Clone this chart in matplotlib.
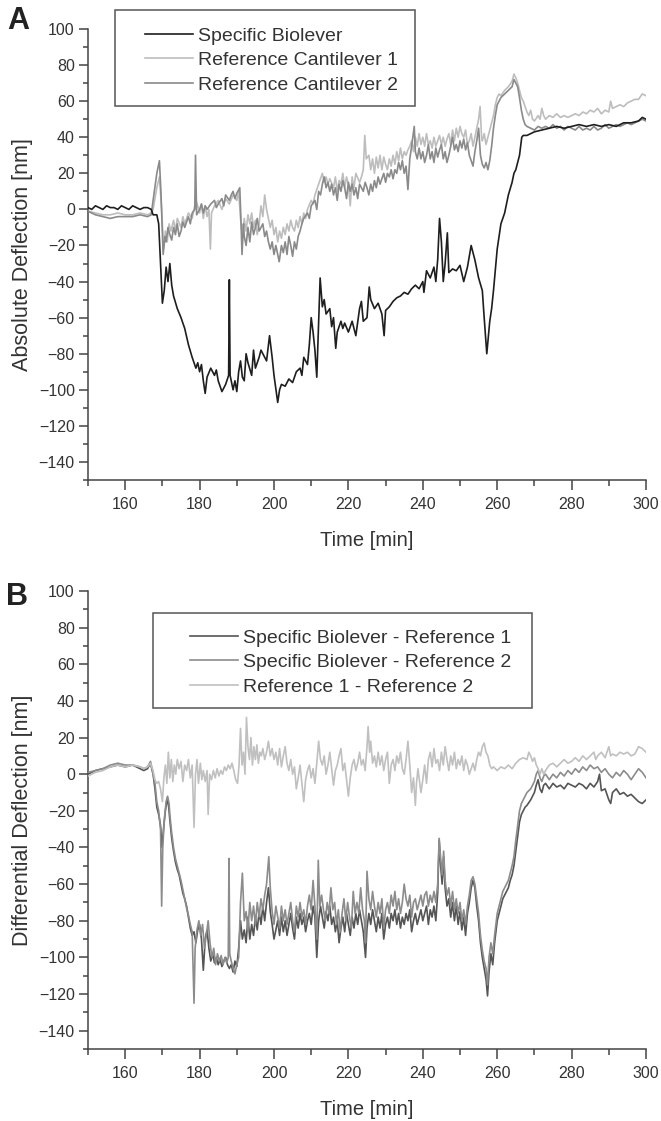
import numpy as np
import matplotlib
matplotlib.use('Agg')
import matplotlib.pyplot as plt
from matplotlib.ticker import MultipleLocator
from matplotlib.patches import Rectangle

plt.rcParams['font.family'] = ['Liberation Sans', 'DejaVu Sans']

# --- DATA (time [min], deflection [nm]) ---
# Panel A: absolute deflection
bio_abs = [
    (150, 1), (151, 0), (152, 2), (153, 1), (154, 0), (155, 2), (156, 1), (157, 1), (158, 0),
    (159, 2), (160, 1), (161, 0), (162, 2), (163, 1), (164, 0), (165, 1), (166, 1), (167, 0),
    (167.5, -3), (168.5, -3), (169, -8), (169.6, -35), (170, -52), (170.5, -45), (171, -32),
    (171.5, -40), (172, -30), (172.5, -42), (173, -48), (174, -55), (175, -60), (176, -66),
    (177, -75), (178, -82), (179, -88), (179.5, -85), (180, -90), (180.5, -86), (181, -95),
    (181.5, -102), (182, -93), (183, -88), (184, -92), (184.5, -89), (185, -95), (186, -101),
    (187, -97), (187.8, -92), (188, -39), (188.2, -92), (189, -100), (189.5, -95), (190, -101),
    (190.5, -90), (191, -84), (191.5, -93), (192, -95), (192.5, -80), (193, -85), (194, -92),
    (194.5, -78), (195, -88), (196, -82), (196.5, -78), (197, -80), (198, -84), (198.8, -70),
    (199.5, -82), (200, -92), (201, -107), (201.5, -100), (202, -97), (203, -98), (204, -94),
    (205, -96), (206, -90), (207, -88), (207.5, -92), (208, -82), (209, -86), (209.5, -75),
    (210, -60), (210.5, -68), (211, -78), (211.5, -93), (212, -62), (212.4, -38), (213, -54),
    (213.5, -50), (214, -58), (215, -55), (215.5, -65), (216, -60), (216.6, -77), (217, -68),
    (218, -62), (218.5, -66), (219, -63), (220, -68), (221, -62), (222, -70), (223, -55),
    (223.5, -51), (224, -62), (225, -60), (225.6, -43), (226, -50), (227, -55), (228, -52),
    (229, -58), (229.6, -70), (230, -56), (231, -54), (232, -51), (233, -49), (234, -48),
    (235, -46), (236, -47), (237, -44), (238, -42), (239, -44), (240, -40), (240.3, -46),
    (241, -34), (242, -38), (243, -32), (243.5, -40), (244, -28), (244.5, -5), (245, -18),
    (245.5, -40), (246, -30), (246.6, -13), (247, -35), (248, -33), (249, -34), (250, -31),
    (251, -40), (252, -32), (253, -20), (254, -28), (255, -38), (256, -45), (256.5, -60),
    (257.2, -80), (258, -62), (258.5, -55), (259, -45), (260, -22), (261, -8), (262, -2),
    (263, 8), (264, 15), (264.5, 20), (265, 22), (266, 30), (266.6, 40), (267, 41), (268, 41),
    (269, 42), (270, 43), (272, 44), (274, 45), (276, 46), (278, 45), (280, 46), (282, 47),
    (284, 46), (286, 47), (288, 46), (290, 47), (292, 46), (294, 48), (296, 48), (298, 49),
    (299, 51), (300, 50),
]

ref1_abs = [
    (150, -1), (152, -2), (154, -3), (156, -3), (158, -2), (160, -3), (162, -3), (164, -2),
    (166, -3), (167, -2), (167.5, 0), (168.5, 12), (169.2, 18), (169.8, 0), (170.3, -22),
    (170.8, -12), (171.3, -18), (171.8, -8), (172.3, -12), (173, -6), (173.5, -12), (174, -5),
    (175, -10), (175.5, -4), (176, -8), (177, -2), (178, -5), (178.5, 0), (179, 5), (179.5, 2),
    (180, -2), (180.5, 3), (181, -5), (181.5, 2), (182, -4), (182.5, 0), (182.9, -22),
    (183.2, -2), (184, 2), (185, 5), (186, 0), (187, 6), (188, 3), (189, 8), (190, 5),
    (190.5, 10), (191, -5), (191.5, -15), (192, -5), (192.5, -12), (193, -3), (193.5, -8),
    (194, -2), (194.5, -10), (195, -6), (195.5, -14), (196, -8), (196.5, 2), (197, -4),
    (197.5, 8), (198, 0), (198.5, -5), (199, -10), (199.5, -6), (200, -14), (200.5, -10),
    (201, -18), (201.5, -12), (202, -16), (202.5, -10), (203, -14), (203.5, -8), (204, -12),
    (204.5, -6), (205, -10), (205.5, -12), (206, -6), (206.5, -10), (207, -4), (207.5, -8),
    (208, -2), (208.5, -5), (209, 0), (210, 5), (210.5, 3), (211, 8), (212, 14), (213, 20),
    (213.5, 15), (214, 18), (214.5, 14), (215, 17), (216, 12), (216.5, 18), (217, 10),
    (217.5, 16), (218, 14), (218.5, 20), (219, 12), (219.5, 18), (220, 14), (220.5, 2),
    (221, 18), (221.5, 12), (222, 20), (223, 15), (223.5, 18), (224, 22), (224.4, 41),
    (224.8, 28), (225.5, 30), (226, 22), (226.5, 28), (227, 20), (227.5, 29), (228, 23),
    (228.5, 30), (229, 22), (229.5, 29), (230, 25), (230.5, 22), (231, 28), (231.5, 24),
    (232, 30), (232.5, 25), (233, 32), (233.5, 27), (234, 34), (234.5, 28), (235, 32),
    (235.5, 30), (236, 33), (236.5, 35), (237, 38), (237.5, 32), (238, 40), (238.5, 35),
    (239, 42), (239.5, 36), (240, 40), (240.5, 35), (241, 42), (241.5, 36), (242, 38),
    (242.5, 34), (243, 40), (243.5, 35), (244, 38), (244.5, 41), (245, 36), (245.5, 40),
    (246, 35), (246.5, 39), (247, 42), (247.5, 36), (248, 44), (248.5, 38), (249, 45),
    (249.5, 40), (250, 46), (250.5, 42), (251, 40), (251.5, 44), (252, 36), (252.5, 38),
    (253, 42), (253.5, 35), (254, 40), (254.5, 45), (255, 50), (255.4, 57), (255.8, 40),
    (256, 38), (256.5, 42), (257, 36), (257.5, 40), (258, 44), (258.5, 48), (259, 52),
    (259.5, 58), (260, 62), (260.5, 64), (261, 63), (262, 66), (263, 68), (264, 71),
    (264.5, 75), (265, 73), (265.5, 70), (266, 66), (266.5, 62), (267, 60), (267.5, 57),
    (268, 54), (268.5, 52), (269, 55), (269.5, 50), (270, 49), (271, 52), (271.5, 50),
    (272, 56), (272.5, 52), (273, 50), (274, 52), (275, 51), (276, 53), (277, 51), (278, 52),
    (279, 51), (280, 52), (281, 53), (282, 52), (283, 54), (284, 53), (285, 55), (286, 54),
    (287, 56), (288, 53), (289, 55), (290, 54), (290.5, 60), (291, 56), (292, 57), (293, 58),
    (294, 57), (295, 59), (296, 60), (297, 61), (298, 61), (299, 64), (300, 63),
]

ref2_abs = [
    (150, -1), (152, -3), (154, -4), (156, -5), (158, -4), (160, -4), (162, -4), (164, -3),
    (166, -4), (167, -3), (167.5, 5), (168.5, 20), (169.2, 27), (169.6, 10), (170.2, -25),
    (170.7, -15), (171, -18), (171.5, -10), (172, -14), (172.5, -17), (173, -10), (173.5, -14),
    (174, -8), (174.5, -15), (175, -12), (175.5, -7), (176, -10), (177, -4), (177.5, -8),
    (178, -2), (178.7, 0), (178.9, 30), (179.2, -3), (180, 0), (180.5, 3), (181, -2),
    (181.5, 2), (182, 0), (183, 3), (184, 5), (184.5, 1), (185, 3), (186, 6), (186.5, 2),
    (187, 8), (188, 5), (188.5, 8), (189, 10), (189.5, 6), (190, 9), (190.8, 12), (191.1, -5),
    (191.4, -25), (191.8, -8), (192, -15), (192.5, -20), (193, -10), (193.5, -18), (194, -7),
    (194.5, -14), (195, -10), (195.5, -5), (196, -12), (197, -8), (197.5, -15), (198, -12),
    (198.5, -18), (199, -22), (199.5, -18), (200, -25), (200.5, -20), (201.4, -29), (202, -20),
    (202.5, -24), (203, -18), (203.5, -25), (204, -15), (204.5, -20), (205, -26), (205.5, -18),
    (206, -22), (206.5, -15), (207, -12), (207.5, -8), (208, -5), (209, -2), (209.5, -5),
    (210, 2), (211, 5), (211.5, 0), (212, 10), (212.5, 8), (213, 14), (213.5, 18), (214, 12),
    (214.5, 15), (215, 10), (215.5, 14), (216, 8), (216.5, 12), (217, 5), (217.5, 14),
    (218, 10), (218.5, 16), (219, 12), (219.5, 6), (220, 15), (220.5, 10), (221, 14),
    (221.5, 8), (222, 12), (222.5, 6), (223, 14), (224, 10), (224.5, 15), (225, 12),
    (225.5, 8), (226, 14), (226.5, 10), (227, 16), (227.5, 12), (228, 18), (228.5, 14),
    (229, 17), (229.5, 20), (230, 15), (230.5, 20), (231, 18), (231.5, 22), (232, 17),
    (232.5, 22), (233, 20), (233.5, 26), (234, 22), (234.5, 27), (235, 20), (235.5, 24),
    (236, 11), (236.5, 28), (237, 35), (237.7, 46), (238, 32), (238.5, 28), (239, 34),
    (239.5, 28), (240, 32), (240.5, 26), (241, 30), (241.5, 36), (242, 28), (242.5, 32),
    (243, 26), (243.5, 34), (244, 29), (244.5, 33), (245, 36), (245.5, 28), (246, 32),
    (246.5, 26), (247, 30), (247.5, 35), (248, 40), (248.5, 33), (249, 36), (249.5, 32),
    (250, 38), (250.5, 34), (251, 39), (251.5, 33), (252, 37), (252.5, 30), (253, 27),
    (253.5, 24), (254, 32), (254.5, 38), (255, 45), (255.5, 30), (256, 25), (256.5, 23),
    (257, 26), (257.5, 22), (258, 27), (258.5, 35), (259, 45), (259.5, 52), (260, 58),
    (260.5, 60), (261, 62), (262, 64), (263, 66), (264, 68), (264.5, 72), (265, 70),
    (265.5, 68), (266, 62), (266.5, 55), (267, 50), (267.5, 47), (268, 46), (269, 45),
    (270, 44), (271, 46), (272, 45), (273, 46), (274, 45), (275, 47), (276, 45), (277, 46),
    (278, 44), (279, 46), (280, 45), (281, 44), (282, 46), (283, 44), (284, 45), (285, 44),
    (286, 46), (287, 44), (288, 45), (289, 47), (290, 45), (291, 46), (292, 47), (293, 46),
    (294, 47), (295, 48), (296, 47), (297, 48), (298, 49), (299, 50), (300, 49),
]

# Panel B: differential deflection
bio_minus_ref1 = [
    (150, 0), (152, 2), (154, 3), (156, 4), (158, 5), (160, 4), (162, 5), (164, 3), (165, 2),
    (166, 3), (166.8, 6), (167.5, 0), (168, -8), (168.5, -18), (169, -22), (169.5, -28),
    (169.9, -40), (170.3, -30), (170.8, -20), (171.3, -13), (171.7, -18), (172, -25),
    (172.5, -35), (173, -42), (173.5, -48), (174, -52), (174.5, -55), (175, -60), (175.5, -65),
    (176, -68), (176.5, -72), (177, -78), (177.5, -84), (178, -88), (178.5, -86), (179, -92),
    (179.5, -85), (180, -82), (180.5, -90), (181, -107), (181.5, -90), (182, -85),
    (182.5, -95), (183, -102), (183.5, -98), (184, -103), (184.5, -100), (185, -104),
    (185.5, -101), (186, -105), (186.5, -102), (187, -100), (187.5, -104), (188, -106),
    (188.5, -104), (189, -108), (189.5, -102), (190, -105), (190.5, -95), (191, -80),
    (191.5, -90), (192, -85), (192.5, -92), (193, -78), (193.5, -90), (194, -82), (194.5, -88),
    (195, -78), (195.5, -85), (196, -75), (196.5, -82), (197, -72), (197.5, -80), (198, -70),
    (198.5, -62), (199, -75), (199.5, -82), (200, -90), (200.5, -85), (201, -80), (201.5, -88),
    (202, -78), (202.5, -86), (203, -80), (203.5, -88), (204, -82), (204.5, -76), (205, -84),
    (205.5, -90), (206, -78), (206.5, -84), (207, -76), (207.5, -82), (208, -78), (208.5, -86),
    (209, -80), (209.5, -76), (210, -82), (210.5, -72), (211, -78), (211.5, -100), (212, -80),
    (212.5, -72), (213, -78), (213.5, -84), (214, -75), (214.5, -80), (215, -72), (215.5, -82),
    (216, -78), (216.5, -86), (217, -80), (217.5, -92), (218, -84), (218.5, -78), (219, -86),
    (219.5, -76), (220, -82), (220.5, -88), (221, -78), (221.5, -84), (222, -76), (222.5, -82),
    (223, -74), (223.5, -80), (224, -86), (224.6, -100), (225, -84), (225.5, -76), (226, -82),
    (226.5, -74), (227, -80), (227.5, -86), (228, -78), (228.5, -84), (229, -76), (229.5, -90),
    (230, -82), (230.5, -78), (231, -84), (231.5, -76), (232, -80), (232.5, -74), (233, -82),
    (233.5, -76), (234, -84), (234.5, -78), (235, -82), (235.5, -76), (236, -80), (236.5, -74),
    (237, -86), (237.5, -80), (238, -76), (238.5, -82), (239, -78), (239.5, -74), (240, -80),
    (240.5, -76), (241, -72), (241.5, -82), (242, -74), (242.5, -78), (243, -72), (243.5, -80),
    (244, -65), (244.4, -36), (244.8, -50), (245.2, -60), (245.6, -45), (246, -62),
    (246.5, -72), (247, -68), (247.5, -78), (248, -70), (248.5, -80), (249, -72), (249.5, -82),
    (250, -75), (250.5, -85), (251, -78), (251.5, -88), (252, -76), (252.5, -70), (253, -62),
    (253.5, -58), (254, -62), (254.5, -72), (255, -80), (255.5, -92), (256, -100),
    (256.5, -106), (257, -112), (257.4, -121), (257.8, -108), (258.3, -98), (258.8, -104),
    (259.3, -92), (260, -80), (260.5, -76), (261, -72), (261.5, -68), (262, -66), (262.5, -64),
    (263, -62), (263.5, -58), (264, -55), (264.5, -50), (265, -42), (265.5, -34), (266, -26),
    (266.5, -22), (267, -20), (267.5, -18), (268, -17), (269, -14), (270, -10), (270.5, -6),
    (271, -3), (271.5, -8), (272, -10), (272.5, -6), (273, -5), (274, -8), (275, -5), (276, -7),
    (277, -6), (278, -8), (279, -5), (280, -6), (281, -7), (282, -5), (283, -6), (284, -8),
    (285, -5), (286, -7), (287, -4), (287.5, 0), (288, -9), (289, -8), (290, -14), (290.5, -16),
    (291, -10), (292, -8), (293, -11), (294, -10), (295, -12), (296, -11), (297, -13),
    (298, -15), (299, -16), (300, -14),
]

bio_minus_ref2 = [
    (150, 1), (152, 2), (154, 3), (156, 5), (158, 6), (160, 5), (162, 5), (164, 4), (165, 3),
    (166, 4), (166.8, 7), (167.5, 0), (168, -5), (168.5, -15), (169, -20), (169.5, -30),
    (169.8, -72), (170.1, -40), (170.5, -25), (171, -15), (171.4, -12), (171.8, -16),
    (172, -22), (172.5, -32), (173, -40), (173.5, -46), (174, -50), (174.5, -54), (175, -58),
    (175.5, -63), (176, -68), (176.5, -73), (177, -77), (177.5, -82), (178, -86),
    (178.5, -125), (178.8, -95), (179.3, -85), (179.8, -80), (180.3, -88), (180.8, -82),
    (181.3, -95), (181.8, -88), (182.3, -80), (182.8, -92), (183.3, -100), (183.8, -95),
    (184.3, -104), (184.8, -98), (185.3, -102), (185.8, -99), (186.3, -104), (186.8, -100),
    (187.3, -103), (187.7, -100), (187.9, -46), (188.1, -98), (188.5, -102), (189, -106),
    (189.5, -109), (190, -104), (190.5, -100), (191, -70), (191.5, -54), (192, -80),
    (192.5, -75), (193, -85), (193.5, -70), (194, -80), (194.5, -72), (195, -82), (195.5, -70),
    (196, -78), (196.5, -68), (197, -74), (197.5, -66), (198, -60), (198.6, -45), (199, -62),
    (199.5, -75), (200, -82), (200.5, -72), (201, -78), (201.5, -84), (202, -72), (202.5, -80),
    (203, -74), (203.5, -82), (204, -76), (204.5, -70), (205, -80), (205.5, -86), (206, -72),
    (206.5, -78), (207, -70), (207.5, -78), (208, -74), (208.5, -82), (209, -72), (209.5, -66),
    (210, -74), (210.5, -58), (211, -72), (211.5, -90), (211.9, -47), (212.3, -72),
    (212.8, -66), (213.3, -74), (213.8, -80), (214.3, -70), (214.8, -76), (215.3, -62),
    (215.8, -74), (216.3, -70), (216.8, -82), (217.3, -74), (217.8, -86), (218.3, -76),
    (218.8, -68), (219.3, -80), (219.8, -70), (220.3, -78), (220.8, -84), (221.3, -64),
    (221.8, -76), (222.3, -70), (222.8, -76), (223.3, -62), (223.8, -74), (224.3, -80),
    (224.6, -92), (225, -53), (225.5, -68), (226, -74), (226.5, -64), (227, -72), (227.5, -78),
    (228, -70), (228.5, -76), (229, -68), (229.5, -84), (230, -74), (230.5, -70), (231, -76),
    (231.5, -66), (232, -72), (232.5, -64), (233, -74), (233.5, -68), (234, -76), (234.5, -70),
    (235, -60), (235.5, -68), (236, -72), (236.5, -66), (237, -78), (237.5, -70), (238, -68),
    (238.5, -74), (239, -70), (239.5, -66), (240, -72), (240.5, -66), (241, -64), (241.5, -72),
    (242, -66), (242.5, -70), (243, -64), (243.5, -70), (244, -60), (244.4, -35), (244.8, -46),
    (245.2, -55), (245.6, -42), (246, -58), (246.5, -66), (247, -62), (247.5, -72), (248, -64),
    (248.5, -74), (249, -68), (249.5, -76), (250, -70), (250.5, -80), (251, -74), (251.5, -82),
    (252, -72), (252.5, -66), (253, -58), (253.5, -56), (254, -60), (254.5, -68), (255, -76),
    (255.5, -88), (256, -96), (256.5, -102), (257, -106), (257.4, -115), (257.8, -100),
    (258.3, -92), (258.8, -98), (259.3, -88), (260, -76), (260.5, -72), (261, -68),
    (261.5, -64), (262, -62), (262.5, -60), (263, -58), (263.5, -54), (264, -50), (264.5, -45),
    (265, -36), (265.5, -28), (266, -20), (266.5, -16), (267, -14), (267.5, -12), (268, -10),
    (269, -8), (270, -4), (270.5, 0), (271, 2), (271.5, -2), (272, -4), (272.5, -1), (273, 0),
    (274, -3), (275, 0), (276, -2), (277, 1), (278, -1), (279, 2), (280, 0), (281, 3), (282, 1),
    (283, 4), (284, 2), (285, 5), (286, 3), (287, 4), (288, 1), (289, 3), (290, 0), (291, -2),
    (292, 1), (293, -1), (294, 2), (295, 0), (296, -3), (297, 0), (298, 3), (299, 1), (300, -2),
]

ref1_minus_ref2 = [
    (150, -1), (152, 1), (154, 2), (156, 4), (158, 5), (160, 4), (162, 5), (164, 4), (165, 3),
    (166, 4), (166.8, 6), (167.5, 2), (168, -3), (168.5, -5), (169, -4), (169.5, -8),
    (170, -15), (170.4, -2), (170.8, 5), (171.2, -5), (171.6, 12), (172, -2), (172.4, 8),
    (172.8, -4), (173.2, 5), (173.6, 0), (174, 8), (174.5, 3), (175, 7), (175.5, -4), (176, 5),
    (176.5, 2), (177, 8), (177.5, -2), (178, 5), (178.5, -29), (178.9, 0), (179.3, 8),
    (179.7, -5), (180.2, 6), (180.6, -3), (181, 2), (181.5, -4), (182, 2), (182.3, -22),
    (182.7, 0), (183.2, -3), (183.7, 2), (184.2, -2), (184.7, 3), (185.2, -1), (185.7, 2),
    (186.2, 0), (186.7, 4), (187.2, 2), (187.7, 5), (188.2, 3), (188.7, 6), (189.2, 2),
    (189.7, -3), (190.2, -5), (190.6, 5), (191, 25), (191.4, 5), (191.8, 12), (192.2, 0),
    (192.6, 31), (193, 15), (193.4, 8), (193.8, 20), (194.2, 5), (194.6, 15), (195, 8),
    (195.4, 16), (195.8, 6), (196.2, 12), (196.6, 10), (197, 14), (197.5, 8), (198, 12),
    (198.5, 18), (199, 10), (199.5, 14), (200, 8), (200.5, 12), (201, 5), (201.5, 14), (202, 4),
    (202.5, 10), (203, 15), (203.5, 6), (204, 2), (204.5, 8), (205, 0), (205.5, 4), (206, -8),
    (206.5, -2), (207, 5), (207.5, -5), (208, -15), (208.5, -3), (209, 2), (209.5, 5),
    (210, -2), (210.5, 3), (211, -5), (211.5, 6), (212, 18), (212.5, 8), (213, 5), (213.5, 10),
    (214, 0), (214.5, 5), (215, 12), (215.5, 3), (216, -6), (216.5, 2), (217, 5), (217.5, 10),
    (218, 14), (218.5, 2), (219, 6), (219.5, -3), (220, -12), (220.5, -2), (221, 5),
    (221.5, 8), (222, 2), (222.5, 6), (223, 12), (223.5, 5), (224, 8), (224.5, 2), (225, 15),
    (225.3, 26), (225.7, 12), (226, 18), (226.5, 6), (227, 10), (227.5, 4), (228, 12),
    (228.5, 5), (229, 10), (229.5, 2), (230, 8), (230.5, 12), (231, -5), (231.5, 5), (232, 8),
    (232.5, 2), (233, 10), (233.5, 6), (234, 12), (234.5, 3), (235, 0), (235.5, 8), (236, 18),
    (236.5, 5), (237, -10), (237.5, -2), (238, -17), (238.3, -5), (238.7, 3), (239, -2),
    (239.5, -10), (240, -3), (240.5, 5), (241, -5), (241.5, 8), (242, 12), (242.5, 4),
    (243, 14), (243.5, 6), (244, 8), (244.5, 2), (245, 12), (245.5, 5), (246, 15), (246.5, 8),
    (247, 2), (247.5, 10), (248, 5), (248.5, 12), (249, 3), (249.5, 8), (250, 5), (250.5, 10),
    (251, 2), (251.5, 8), (252, 5), (252.5, 0), (253, 3), (253.5, 6), (254, 2), (254.5, 8),
    (255, 12), (255.5, 10), (256, 15), (256.5, 17), (257, 12), (257.5, 10), (258, 5),
    (258.5, 3), (259, 4), (260, 2), (261, 4), (262, 3), (263, 5), (264, 3), (265, 6), (266, 8),
    (267, 9), (268, 8), (268.5, 12), (269, 10), (269.5, 7), (270, 9), (270.5, 5), (271, 3),
    (271.5, 0), (272, 3), (272.5, 0), (273, 2), (274, 5), (275, 6), (276, 4), (277, 6),
    (278, 8), (279, 6), (280, 7), (281, 9), (282, 7), (283, 10), (284, 8), (285, 10), (286, 12),
    (286.5, 8), (287, 10), (288, 12), (289, 9), (290, 15), (290.5, 10), (291, 11), (292, 10),
    (293, 12), (294, 11), (295, 12), (296, 10), (297, 11), (298, 15), (299, 14), (300, 12),
]

labels_a = ['Specific Biolever', 'Reference Cantilever 1', 'Reference Cantilever 2']
labels_b = ['Specific Biolever - Reference 1', 'Specific Biolever - Reference 2',
            'Reference 1 - Reference 2']

TXT = '#333333'
AX = '#444444'
W, H = 661, 1121

fig = plt.figure(figsize=(W / 100, H / 100), dpi=100)
ax_a = fig.add_axes([88 / W, 1 - 480 / H, 558 / W, 451 / H])
ax_b = fig.add_axes([88 / W, 1 - 1049 / H, 558 / W, 458 / H])


def style_axes(ax, ylabel):
    ax.set_xlim(150, 300)
    ax.set_ylim(-150, 100)
    for side in ['top', 'right']:
        ax.spines[side].set_visible(False)
    for side in ['left', 'bottom']:
        ax.spines[side].set_color(AX)
        ax.spines[side].set_linewidth(1.1)
    ax.xaxis.set_minor_locator(MultipleLocator(10))
    ax.yaxis.set_major_locator(MultipleLocator(20))
    ax.yaxis.set_minor_locator(MultipleLocator(10))
    ax.set_xticks([160, 180, 200, 220, 240, 260, 280, 300])
    ax.tick_params(which='major', direction='out', length=6.5, width=1.1, color=AX,
                   labelsize=11.5, labelcolor=TXT, pad=3)
    ax.tick_params(which='minor', direction='out', length=3.5, width=1.1, color=AX)
    ax.tick_params(axis='x', which='major', length=7.5, pad=4.5)
    ax.tick_params(axis='x', which='minor', length=4.5)
    ax.set_xlabel('Time [min]', fontsize=14.5, color=TXT, labelpad=14)
    ax.set_ylabel(ylabel, fontsize=15.5, color=TXT, labelpad=4)


def leg(handles, labels, box, hx, row1):
    # box = (left, top, right, bottom) in pixels; hx = handle start; row1 = first row centre
    x0, y0, x1, y1 = box
    fig.add_artist(Rectangle((x0 / W, 1 - y1 / H), (x1 - x0) / W, (y1 - y0) / H,
                             transform=fig.transFigure, fill=False, ec='#555555', lw=1.1,
                             zorder=10))
    lg = fig.legend(handles, labels, loc='upper left',
                    bbox_to_anchor=(hx / W, 1 - (row1 - 7) / H),
                    fontsize=14, frameon=False, borderpad=0, borderaxespad=0,
                    handlelength=2.45, handletextpad=0.28, labelspacing=0.36)
    for t in lg.get_texts():
        t.set_color(TXT)
    return lg


# --- Panel A ---
t, v = np.array(ref1_abs).T
l_r1, = ax_a.plot(t, v, color='#bdbdbd', lw=1.2, zorder=2)
t, v = np.array(ref2_abs).T
l_r2, = ax_a.plot(t, v, color='#8a8a8a', lw=1.2, zorder=3)
t, v = np.array(bio_abs).T
l_bio, = ax_a.plot(t, v, color='#1e1e1e', lw=1.2, zorder=4)
style_axes(ax_a, 'Absolute Deflection [nm]')
leg([l_bio, l_r1, l_r2], labels_a, (115, 10, 415, 106), 145, 34)

# --- Panel B ---
t, v = np.array(bio_minus_ref1).T
l_b1, = ax_b.plot(t, v, color='#555555', lw=1.2, zorder=2)
t, v = np.array(bio_minus_ref2).T
l_b2, = ax_b.plot(t, v, color='#8c8c8c', lw=1.2, zorder=3)
t, v = np.array(ref1_minus_ref2).T
l_rr, = ax_b.plot(t, v, color='#c0c0c0', lw=1.2, zorder=4)
style_axes(ax_b, 'Differential Deflection [nm]')
leg([l_b1, l_b2, l_rr], labels_b, (153, 613, 532, 708), 190, 636)

fig.text(18 / W, 1 - 21 / H, 'A', fontsize=22, fontweight='bold', color='#222222',
         ha='center', va='center')
fig.text(17 / W, 1 - 597 / H, 'B', fontsize=22, fontweight='bold', color='#222222',
         ha='center', va='center')

fig.savefig('out.png', dpi=100, facecolor='white')
